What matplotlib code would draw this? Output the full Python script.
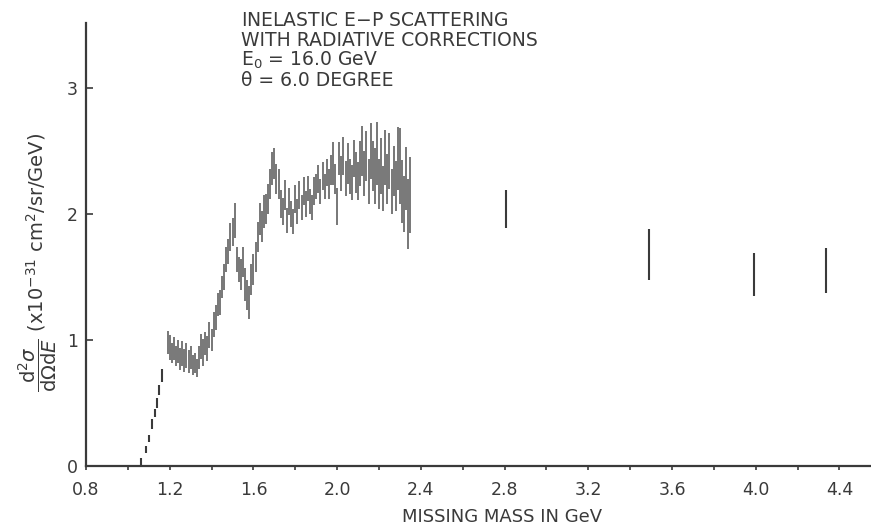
import matplotlib
matplotlib.use("Agg")
import matplotlib.pyplot as plt

# ---- data (missing mass in GeV, cross section x1e-31 cm^2/sr/GeV, half error) ----
thr_x = [1.065, 1.085, 1.10, 1.115, 1.13, 1.14, 1.15, 1.165]
thr_y = [0.03, 0.13, 0.22, 0.33, 0.42, 0.50, 0.60, 0.72]
thr_e = [0.03, 0.03, 0.03, 0.04, 0.03, 0.04, 0.04, 0.05]

mass = [1.19, 1.20, 1.21, 1.22, 1.23, 1.24, 1.25, 1.26, 1.27, 1.28,
        1.29, 1.30, 1.31, 1.32, 1.33, 1.34, 1.35, 1.36, 1.37, 1.38,
        1.39, 1.40, 1.41, 1.42, 1.43, 1.44, 1.45, 1.46, 1.47, 1.48,
        1.49, 1.50, 1.51, 1.52, 1.53, 1.54, 1.55, 1.56, 1.57, 1.58,
        1.59, 1.60, 1.61, 1.62, 1.63, 1.64, 1.65, 1.66, 1.67, 1.68,
        1.69, 1.70, 1.71, 1.72, 1.73, 1.74, 1.75, 1.76, 1.77, 1.78,
        1.79, 1.80, 1.81, 1.82, 1.83, 1.84, 1.85, 1.86, 1.87, 1.88,
        1.89, 1.90, 1.91, 1.92, 1.93, 1.94, 1.95, 1.96, 1.97, 1.98,
        1.99, 2.00, 2.01, 2.02, 2.03, 2.04, 2.05, 2.06, 2.07, 2.08,
        2.09, 2.10, 2.11, 2.12, 2.13, 2.14, 2.15, 2.16, 2.17, 2.18,
        2.19, 2.20, 2.21, 2.22, 2.23, 2.24, 2.25, 2.26, 2.27, 2.28,
        2.29, 2.30, 2.31, 2.32, 2.33, 2.34, 2.35]
sigma = [0.98, 0.94, 0.90, 0.93, 0.87, 0.91, 0.85, 0.89, 0.84, 0.88,
         0.83, 0.86, 0.80, 0.82, 0.78, 0.86, 0.95, 0.90, 0.97, 0.93,
         1.04, 1.00, 1.12, 1.18, 1.28, 1.30, 1.42, 1.50, 1.64, 1.70,
         1.82, 1.86, 1.95, 1.64, 1.56, 1.52, 1.62, 1.44, 1.36, 1.30,
         1.48, 1.56, 1.66, 1.82, 1.96, 1.90, 2.02, 2.04, 2.12, 2.24,
         2.36, 2.40, 2.28, 2.24, 2.08, 2.02, 2.15, 1.95, 2.10, 2.00,
         1.94, 2.12, 2.02, 2.15, 2.05, 2.18, 2.08, 2.20, 2.10, 2.05,
         2.18, 2.22, 2.28, 2.18, 2.30, 2.22, 2.33, 2.24, 2.35, 2.40,
         2.28, 2.06, 2.44, 2.32, 2.46, 2.28, 2.40, 2.30, 2.25, 2.44,
         2.33, 2.26, 2.40, 2.50, 2.32, 2.46, 2.26, 2.50, 2.38, 2.30,
         2.48, 2.24, 2.38, 2.20, 2.45, 2.28, 2.42, 2.18, 2.34, 2.22,
         2.44, 2.38, 2.18, 2.08, 2.28, 2.00, 2.15]
err = [0.09, 0.10, 0.08, 0.09, 0.08, 0.09, 0.09, 0.10, 0.09, 0.10,
       0.09, 0.09, 0.08, 0.08, 0.07, 0.09, 0.10, 0.11, 0.09, 0.10,
       0.10, 0.09, 0.10, 0.10, 0.09, 0.10, 0.09, 0.10, 0.10, 0.10,
       0.11, 0.11, 0.14, 0.10, 0.10, 0.12, 0.12, 0.13, 0.12, 0.13,
       0.12, 0.12, 0.12, 0.12, 0.13, 0.12, 0.13, 0.12, 0.12, 0.12,
       0.13, 0.12, 0.12, 0.12, 0.11, 0.11, 0.12, 0.10, 0.11, 0.10,
       0.10, 0.11, 0.10, 0.11, 0.10, 0.11, 0.10, 0.10, 0.10, 0.10,
       0.11, 0.10, 0.11, 0.10, 0.11, 0.10, 0.11, 0.12, 0.12, 0.17,
       0.12, 0.15, 0.13, 0.14, 0.15, 0.14, 0.16, 0.14, 0.14, 0.15,
       0.16, 0.15, 0.18, 0.20, 0.18, 0.20, 0.18, 0.22, 0.20, 0.22,
       0.25, 0.20, 0.22, 0.18, 0.22, 0.20, 0.22, 0.18, 0.20, 0.20,
       0.25, 0.30, 0.25, 0.22, 0.25, 0.28, 0.30]

far_x = [2.807, 3.49, 3.99, 4.335]
far_y = [2.04, 1.68, 1.52, 1.55]
far_e = [0.15, 0.20, 0.17, 0.18]

x_ticks = [0.8, 1.2, 1.6, 2.0, 2.4, 2.8, 3.2, 3.6, 4.0, 4.4]
x_ticklabels = ["0.8", "1.2", "1.6", "2.0", "2.4", "2.8", "3.2", "3.6", "4.0", "4.4"]
y_ticks = [0, 1, 2, 3]

ink = "#3a3a3a"
fig = plt.figure(figsize=(8.71, 5.30), dpi=100)
ax = fig.add_axes([86/871, 1 - 466/530, 1 - 86/871, (466 - 23)/530])

ax.errorbar(thr_x, thr_y, yerr=thr_e, fmt="none", ecolor=ink, elinewidth=1.5, capsize=0)
ax.errorbar(mass, sigma, yerr=err, fmt="none", ecolor="#444444", elinewidth=1.2,
            capsize=0, alpha=0.85)
ax.errorbar(far_x, far_y, yerr=far_e, fmt="none", ecolor=ink, elinewidth=1.5, capsize=0)

ax.set_xlim(0.8, 0.8 + (871 - 86) / 209.3)
ax.set_ylim(0, (466 - 23) / 126)
ax.set_xticks(x_ticks)
ax.set_xticklabels(x_ticklabels)
ax.set_xticks([1.0, 1.4, 1.8, 2.2, 2.6, 3.0, 3.4, 3.8, 4.2], minor=True)
ax.set_yticks(y_ticks)
ax.tick_params(axis="x", which="both", direction="out", length=3, width=1.2,
               colors=ink, labelsize=12.5, pad=8)
ax.tick_params(axis="y", direction="in", length=5, width=1.2, colors=ink,
               labelsize=12.5, pad=6)
for s in ["top", "right"]:
    ax.spines[s].set_visible(False)
for s in ["left", "bottom"]:
    ax.spines[s].set_color(ink)
    ax.spines[s].set_linewidth(1.6)

fig.text(502/871, 1 - 517/530, "MISSING MASS IN GeV", ha="center", va="center",
         fontsize=13, color=ink)
fig.text(38/871, 1 - 262/530,
         r"$\dfrac{\mathrm{d}^2\sigma}{\mathrm{d}\Omega \mathrm{d}E}$ (x10$^{-31}$ cm$^2$/sr/GeV)",
         rotation=90, ha="center", va="center", fontsize=14, color=ink)

lines = ["INELASTIC E$-$P SCATTERING", "WITH RADIATIVE CORRECTIONS",
         "E$_0$ = 16.0 GeV", "θ = 6.0 DEGREE"]
ys = [20, 40, 60, 80]
for t, yy in zip(lines, ys):
    fig.text(241/871, 1 - yy/530, t, ha="left", va="center", fontsize=13.5, color=ink)

fig.savefig("out.png", dpi=100, facecolor="white")
